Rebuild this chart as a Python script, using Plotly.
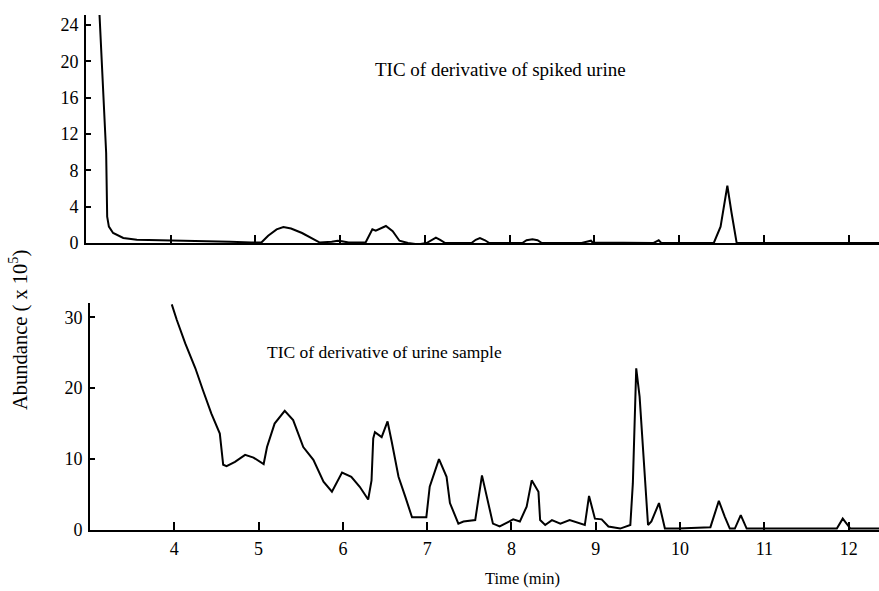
import plotly.graph_objects as go

# Top panel: TIC of derivative of spiked urine (Abundance x 10^5)
top_time = [3.155, 3.18, 3.238, 3.25, 3.27, 3.32, 3.44, 3.6, 3.9, 4.3, 4.7, 4.95, 5.07, 5.15, 5.25, 5.33, 5.42,
             5.55, 5.68, 5.76, 5.9, 5.97, 6.02, 6.1, 6.30, 6.34, 6.38, 6.42, 6.48, 6.54, 6.62, 6.70, 6.80,
             6.92, 7.02, 7.08, 7.13, 7.18, 7.24, 7.55, 7.60, 7.65, 7.71, 7.76, 8.15, 8.20, 8.27, 8.33, 8.38,
             8.85, 8.93, 8.96, 8.98, 9.7, 9.74, 9.76, 9.79, 10.41, 10.49, 10.57, 10.62, 10.68, 11.5, 12.4]
top_vals = [26.0, 21.3, 9.9, 2.9, 1.8, 1.1, 0.55, 0.35, 0.3, 0.25, 0.15, 0.05, 0.05, 0.8, 1.5, 1.75, 1.6,
            1.1, 0.4, 0.05, 0.15, 0.25, 0.2, 0.05, 0.05, 0.8, 1.5, 1.35, 1.6, 1.87, 1.3, 0.25, 0.0,
            -0.15, 0.0, 0.35, 0.6, 0.35, 0.0, 0.0, 0.35, 0.55, 0.3, 0.0, 0.0, 0.3, 0.4, 0.3, 0.0,
            0.0, 0.15, 0.25, 0.05, 0.0, 0.2, 0.3, 0.0, 0.0, 1.8, 6.3, 3.3, 0.0, 0.0, 0.0]

# Bottom panel: TIC of derivative of urine sample (Abundance x 10^5)
bot_time = [3.97, 4.03, 4.13, 4.25, 4.34, 4.44, 4.54, 4.58, 4.62, 4.72, 4.84, 4.94, 5.06, 5.10, 5.19,
            5.31, 5.41, 5.53, 5.65, 5.77, 5.87, 5.99, 6.10, 6.20, 6.30, 6.34, 6.36, 6.38, 6.46, 6.53,
            6.58, 6.66, 6.74, 6.82, 6.99, 7.03, 7.14, 7.23, 7.27, 7.37, 7.43, 7.57, 7.65, 7.72, 7.78,
            7.86, 8.02, 8.10, 8.18, 8.24, 8.32, 8.34, 8.40, 8.48, 8.58, 8.69, 8.81, 8.87, 8.92, 8.99,
            9.07, 9.15, 9.29, 9.41, 9.44, 9.48, 9.52, 9.57, 9.62, 9.66, 9.75, 9.82, 9.98, 10.36,
            10.46, 10.53, 10.59, 10.65, 10.72, 10.79, 11.86, 11.93, 12.02, 12.4]
bot_vals = [31.8, 29.6, 26.3, 22.8, 19.7, 16.4, 13.6, 9.2, 9.0, 9.6, 10.6, 10.2, 9.3, 11.7, 15.0,
            16.8, 15.5, 11.7, 9.9, 6.8, 5.4, 8.1, 7.5, 6.1, 4.3, 7.0, 12.9, 13.8, 13.1, 15.3,
            12.4, 7.5, 4.7, 1.8, 1.8, 6.1, 10.0, 7.5, 3.8, 0.9, 1.2, 1.4, 7.7, 4.2, 0.9,
            0.5, 1.5, 1.2, 3.3, 7.0, 5.4, 1.4, 0.7, 1.4, 0.9, 1.4, 0.9, 0.7, 4.8, 1.6,
            1.5, 0.5, 0.2, 0.7, 6.6, 22.8, 18.8, 8.9, 0.7, 1.2, 3.8, 0.2, 0.2, 0.4,
            4.1, 1.9, 0.2, 0.2, 2.1, 0.2, 0.2, 1.6, 0.2, 0.2]

top_yticks = [0, 4, 8, 12, 16, 20, 24]
bot_yticks = [0, 10, 20, 30]
x_ticks = [4, 5, 6, 7, 8, 9, 10, 11, 12]

W, H = 879, 591
FONT = "Liberation Serif"

fig = go.Figure()
fig.add_trace(go.Scatter(x=top_time, y=top_vals, mode="lines",
                         line=dict(color="black", width=2), xaxis="x", yaxis="y",
                         showlegend=False, hoverinfo="skip"))
fig.add_trace(go.Scatter(x=bot_time, y=bot_vals, mode="lines",
                         line=dict(color="black", width=2), xaxis="x2", yaxis="y2",
                         showlegend=False, hoverinfo="skip"))

xrange = [3.0, 12.36]
axis_common = dict(showgrid=False, zeroline=False, showline=True, linecolor="black",
                   linewidth=2, ticks="inside", tickcolor="black", automargin=False)

fig.update_layout(
    width=W, height=H,
    margin=dict(l=0, r=0, t=0, b=0),
    paper_bgcolor="white", plot_bgcolor="white",
    font=dict(family=FONT, color="black", size=18),
    xaxis=dict(domain=[86 / W, 1.0], range=xrange, anchor="y", tickvals=x_ticks,
               showticklabels=False, ticklen=8, tickwidth=1.5, **axis_common),
    yaxis=dict(domain=[1 - 243 / H, 1 - 15 / H], range=[0, 25.1], anchor="x",
               tickvals=top_yticks, ticklen=5, tickwidth=1.5, tickfont=dict(size=18),
               ticklabelstandoff=2, **axis_common),
    xaxis2=dict(domain=[90 / W, 1.0], range=xrange, anchor="y2", tickvals=x_ticks,
                ticklen=8, tickwidth=1.5, tickfont=dict(size=18),
                ticklabelstandoff=1, **axis_common),
    yaxis2=dict(domain=[1 - 530 / H, 1 - 303 / H], range=[0, 32], anchor="x2",
                tickvals=bot_yticks, ticklen=5, tickwidth=1.5, tickfont=dict(size=18),
                ticklabelstandoff=2, **axis_common),
    annotations=[
        dict(text="TIC of derivative of spiked urine", x=500 / W, y=1 - 70 / H,
             xanchor="center", yanchor="middle",
             xref="paper", yref="paper", showarrow=False, font=dict(size=19)),
        dict(text="TIC of derivative of urine sample", x=384 / W, y=1 - 352 / H,
             xanchor="center", yanchor="middle",
             xref="paper", yref="paper", showarrow=False, font=dict(size=17.5)),
        dict(text="Time (min)", x=522 / W, y=1 - 578 / H,
             xanchor="center", yanchor="middle",
             xref="paper", yref="paper", showarrow=False, font=dict(size=16.5)),
        dict(text="Abundance ( x 10<sup>5</sup>)", x=18 / W, y=1 - 330 / H, textangle=-90,
             xanchor="center", yanchor="middle",
             xref="paper", yref="paper", showarrow=False, font=dict(size=20.5)),
    ],
)

fig.write_html("out.html")
